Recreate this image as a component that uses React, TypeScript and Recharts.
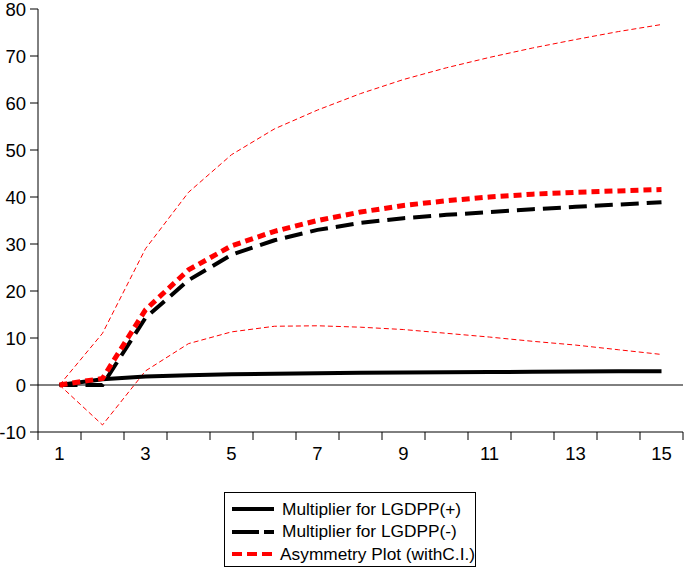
import { ComposedChart, Line, XAxis, YAxis, ReferenceLine } from "recharts";

const periods = [1, 2, 3, 4, 5, 6, 7, 8, 9, 10, 11, 12, 13, 14, 15];
const multPos = [0, 1.2, 1.8, 2.1, 2.3, 2.4, 2.5, 2.6, 2.65, 2.7, 2.75, 2.8, 2.85, 2.9, 2.9];
const multNeg = [0, 0, 14.3, 22.3, 27.7, 30.8, 33.0, 34.5, 35.5, 36.2, 36.8, 37.4, 37.9, 38.4, 38.9];
const asym = [0, 1.4, 16.0, 24.5, 29.6, 32.7, 35.0, 36.8, 38.2, 39.2, 40.0, 40.6, 41.0, 41.3, 41.6];
const ciUpper = [0, 11.0, 29.0, 41.0, 49.0, 54.5, 58.5, 62.0, 65.0, 67.5, 69.7, 71.7, 73.5, 75.2, 76.7];
const ciLower = [0, -8.5, 3.0, 8.8, 11.3, 12.5, 12.6, 12.3, 11.8, 11.0, 10.2, 9.3, 8.5, 7.5, 6.5];

const yTicks = [-10, 0, 10, 20, 30, 40, 50, 60, 70, 80];
const xLabels = [1, 3, 5, 7, 9, 11, 13, 15];

const legendItems = [
  { label: "Multiplier for LGDPP(+)", color: "#000", width: 4, dash: "" },
  { label: "Multiplier for LGDPP(-)", color: "#000", width: 4, dash: "27 5 10" },
  { label: "Asymmetry Plot (withC.I.)", color: "#ff0000", width: 4, dash: "10 5" },
];

const data = periods.map((p, i) => ({
  p,
  pos: multPos[i],
  neg: multNeg[i],
  asym: asym[i],
  up: ciUpper[i],
  lo: ciLower[i],
}));

// boundaries between periods get the tick marks, odd periods get labels
const xTicks = periods.flatMap((p) => [p - 0.5, p]).concat(periods[periods.length - 1] + 0.5);

const FONT = "'Liberation Sans', Arial, sans-serif";

function XTick(props: any) {
  const { x, y, payload } = props;
  const v = payload.value;
  if (Number.isInteger(v)) {
    if (!xLabels.includes(v)) return null;
    return (
      <text x={x} y={y + 28} textAnchor="middle" fontSize={18.5} fontFamily={FONT} fill="#000">
        {v}
      </text>
    );
  }
  return <line x1={x} x2={x} y1={y} y2={y + 8} stroke="#000" strokeWidth={1} />;
}

export default function App() {
  return (
    <div style={{ position: "absolute", left: 0, top: 0, width: 685, height: 570, background: "#fff", fontFamily: FONT }}>
      <ComposedChart width={685} height={470} data={data} margin={{ top: 9, right: 2, bottom: 0, left: 0 }}>
        <XAxis
          dataKey="p"
          type="number"
          domain={[0.5, 15.5]}
          ticks={xTicks}
          interval={0}
          tick={<XTick />}
          tickLine={false}
          tickSize={0}
          tickMargin={0}
          axisLine={{ stroke: "#000" }}
          height={38}
        />
        <YAxis
          domain={[-10, 80]}
          ticks={yTicks}
          interval={0}
          width={38}
          tickSize={8}
          tickMargin={4}
          axisLine={{ stroke: "#000" }}
          tickLine={{ stroke: "#000" }}
          tick={{ fill: "#000", fontSize: 18.5, fontFamily: FONT }}
        />
        <ReferenceLine y={0} stroke="#000" strokeWidth={1} />
        <Line type="linear" dataKey="up" stroke="#ff0000" strokeWidth={1} strokeDasharray="5 3" dot={false} isAnimationActive={false} />
        <Line type="linear" dataKey="lo" stroke="#ff0000" strokeWidth={1} strokeDasharray="5 3" dot={false} isAnimationActive={false} />
        <Line type="linear" dataKey="pos" stroke="#000" strokeWidth={4} dot={false} isAnimationActive={false} />
        <Line type="linear" dataKey="neg" stroke="#000" strokeWidth={4} strokeDasharray="18 8" dot={false} isAnimationActive={false} />
        <Line type="linear" dataKey="asym" stroke="#ff0000" strokeWidth={5} strokeDasharray="8 5" dot={false} isAnimationActive={false} />
      </ComposedChart>
      <div
        style={{
          position: "absolute",
          left: 224,
          top: 492,
          width: 252,
          height: 75,
          border: "1px solid #000",
          boxSizing: "border-box",
          paddingTop: 5,
        }}
      >
        {legendItems.map((it) => (
          <div key={it.label} style={{ display: "flex", alignItems: "center", height: 22.5 }}>
            <svg width={50} height={10} style={{ marginLeft: 7 }}>
              <line x1={0} x2={42} y1={5} y2={5} stroke={it.color} strokeWidth={it.width} strokeDasharray={it.dash} />
            </svg>
            <span style={{ fontSize: 17.3, color: "#000", whiteSpace: "nowrap" }}>{it.label}</span>
          </div>
        ))}
      </div>
    </div>
  );
}
